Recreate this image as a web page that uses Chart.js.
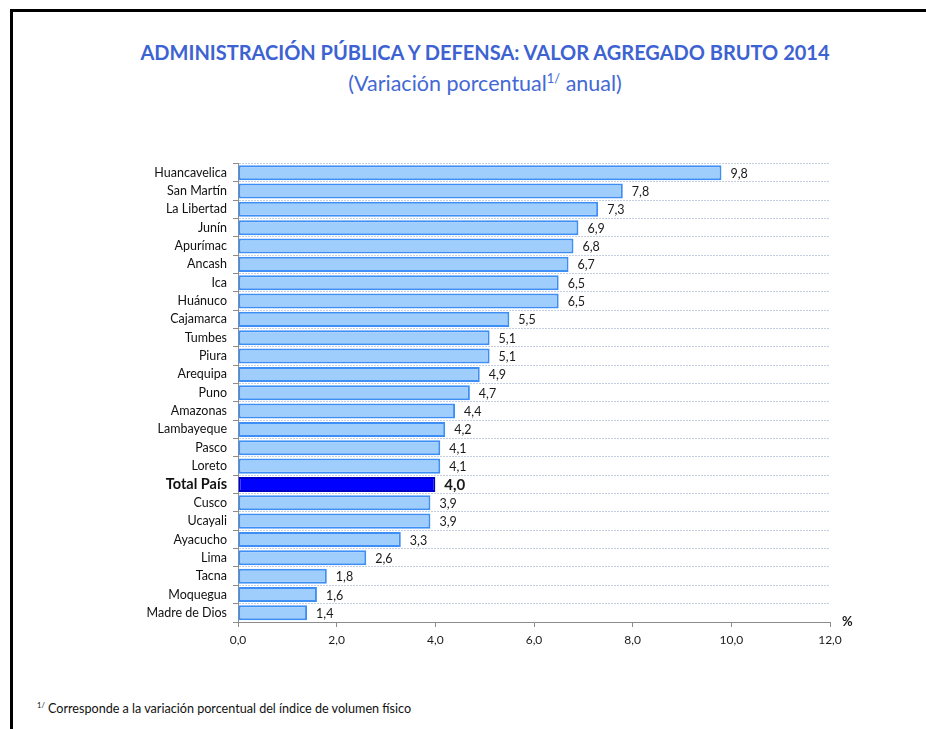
<!DOCTYPE html>
<html lang="es">
<head>
  <meta charset="UTF-8" />
  <title>Administración Pública y Defensa</title>
  <script src="https://cdn.jsdelivr.net/npm/chart.js"></script>
  <style>
    body, html {
      margin: 0;
      background: #fff;
      overflow: hidden;
      font-family: Lato, "Open Sans", sans-serif;
    }
    #page {
      position: relative;
      width: 926px;
      height: 729px;
      overflow: hidden;
    }
    .rule {
      position: absolute;
      background: #000;
    }
    #ruleTop { left: 10px; top: 9px; width: 916px; height: 3px; }
    #ruleLeft { left: 10px; top: 9px; width: 3px; height: 720px; }
    #title {
      position: absolute;
      left: 0;
      width: 970px;
      top: 40px;
      text-align: center;
      color: #3d62d2;
      font-weight: bold;
      font-size: 20px;
    }
    #subtitle {
      position: absolute;
      left: 0;
      width: 970px;
      top: 70px;
      text-align: center;
      color: #4468d4;
      font-size: 21.5px;
    }
    #subtitle sup, #note sup { font-size: 60%; }
    #note {
      position: absolute;
      left: 37px;
      top: 701px;
      font-size: 12.6px;
      color: #111;
    }
    #wrap {
      position: absolute;
      left: 0;
      top: 150px;
      width: 926px;
      height: 510px;
    }
  </style>
</head>
<body>
  <div id="page">
    <div class="rule" id="ruleTop"></div>
    <div class="rule" id="ruleLeft"></div>
    <div id="title">ADMINISTRACIÓN PÚBLICA Y DEFENSA: VALOR AGREGADO BRUTO 2014</div>
    <div id="subtitle">(Variación porcentual<sup>1/</sup> anual)</div>
    <div id="wrap"><canvas id="bars"></canvas></div>
    <div id="note"><sup>1/</sup> Corresponde a la variación porcentual del índice de volumen físico</div>
  </div>

  <script>
    const regions = ['Huancavelica', 'San Martín', 'La Libertad', 'Junín', 'Apurímac', 'Ancash', 'Ica',
      'Huánuco', 'Cajamarca', 'Tumbes', 'Piura', 'Arequipa', 'Puno', 'Amazonas', 'Lambayeque', 'Pasco',
      'Loreto', 'Total País', 'Cusco', 'Ucayali', 'Ayacucho', 'Lima', 'Tacna', 'Moquegua', 'Madre de Dios'];
    const growth = [9.8, 7.8, 7.3, 6.9, 6.8, 6.7, 6.5, 6.5, 5.5, 5.1, 5.1, 4.9, 4.7, 4.4, 4.2, 4.1,
      4.1, 4.0, 3.9, 3.9, 3.3, 2.6, 1.8, 1.6, 1.4];
    const xTicks = [0, 2, 4, 6, 8, 10, 12];

    const isTotal = i => regions[i] === 'Total País';
    const fmt = v => v.toFixed(1).replace('.', ',');

    // etiquetas de valor y el "%" del eje
    const labelPlugin = {
      id: 'valueLabels',
      afterDatasetsDraw(chart) {
        const ctx = chart.ctx;
        const meta = chart.getDatasetMeta(0);
        ctx.save();
        ctx.textBaseline = 'middle';
        ctx.fillStyle = '#1a1a1a';
        meta.data.forEach((bar, i) => {
          ctx.font = isTotal(i) ? 'bold 15px Lato' : '12.5px Lato';
          ctx.fillText(fmt(growth[i]), bar.x + 9, bar.y + 1);
        });
        const area = chart.chartArea;
        ctx.font = 'bold 13px Lato';
        ctx.fillText('%', area.right + 12, area.bottom);
        ctx.restore();
      }
    };

    new Chart(document.getElementById('bars'), {
      type: 'bar',
      data: {
        labels: regions,
        datasets: [{
          data: growth,
          backgroundColor: regions.map((r, i) => isTotal(i) ? '#0000ff' : '#9fcdfc'),
          borderColor: regions.map((r, i) => isTotal(i) ? '#0000c8' : '#3d8ef5'),
          borderWidth: 2,
          borderSkipped: false,
          barPercentage: 0.82,
          categoryPercentage: 1
        }]
      },
      options: {
        indexAxis: 'y',
        responsive: true,
        maintainAspectRatio: false,
        animation: false,
        layout: { padding: { left: 0, right: 96, top: 13, bottom: 0 } },
        plugins: {
          legend: { display: false },
          tooltip: { enabled: false }
        },
        scales: {
          x: {
            min: 0,
            max: 12,
            afterBuildTicks: axis => { axis.ticks = xTicks.map(v => ({ value: v })); },
            afterFit: axis => { axis.height = 38; },
            grid: { drawOnChartArea: false, drawTicks: true, tickLength: 5, tickColor: '#8c8c8c' },
            border: { color: '#8c8c8c', width: 1 },
            ticks: {
              padding: 6,
              color: '#1a1a1a',
              font: { family: 'Lato', size: 12 },
              callback: v => fmt(v)
            }
          },
          y: {
            afterFit: axis => { axis.width = 238; },
            grid: {
              color: '#c3cee0',
              lineWidth: 1,
              tickLength: 5,
              tickColor: '#8c8c8c',
              offset: true
            },
            border: { color: '#8c8c8c', width: 1, dash: [2, 1] },
            ticks: {
              autoSkip: false,
              padding: 6,
              color: '#111',
              font: c => isTotal(c.index)
                ? { family: 'Lato', size: 14.5, weight: 'bold' }
                : { family: 'Lato', size: 12.5 }
            }
          }
        }
      },
      plugins: [labelPlugin]
    });
  </script>
</body>
</html>
